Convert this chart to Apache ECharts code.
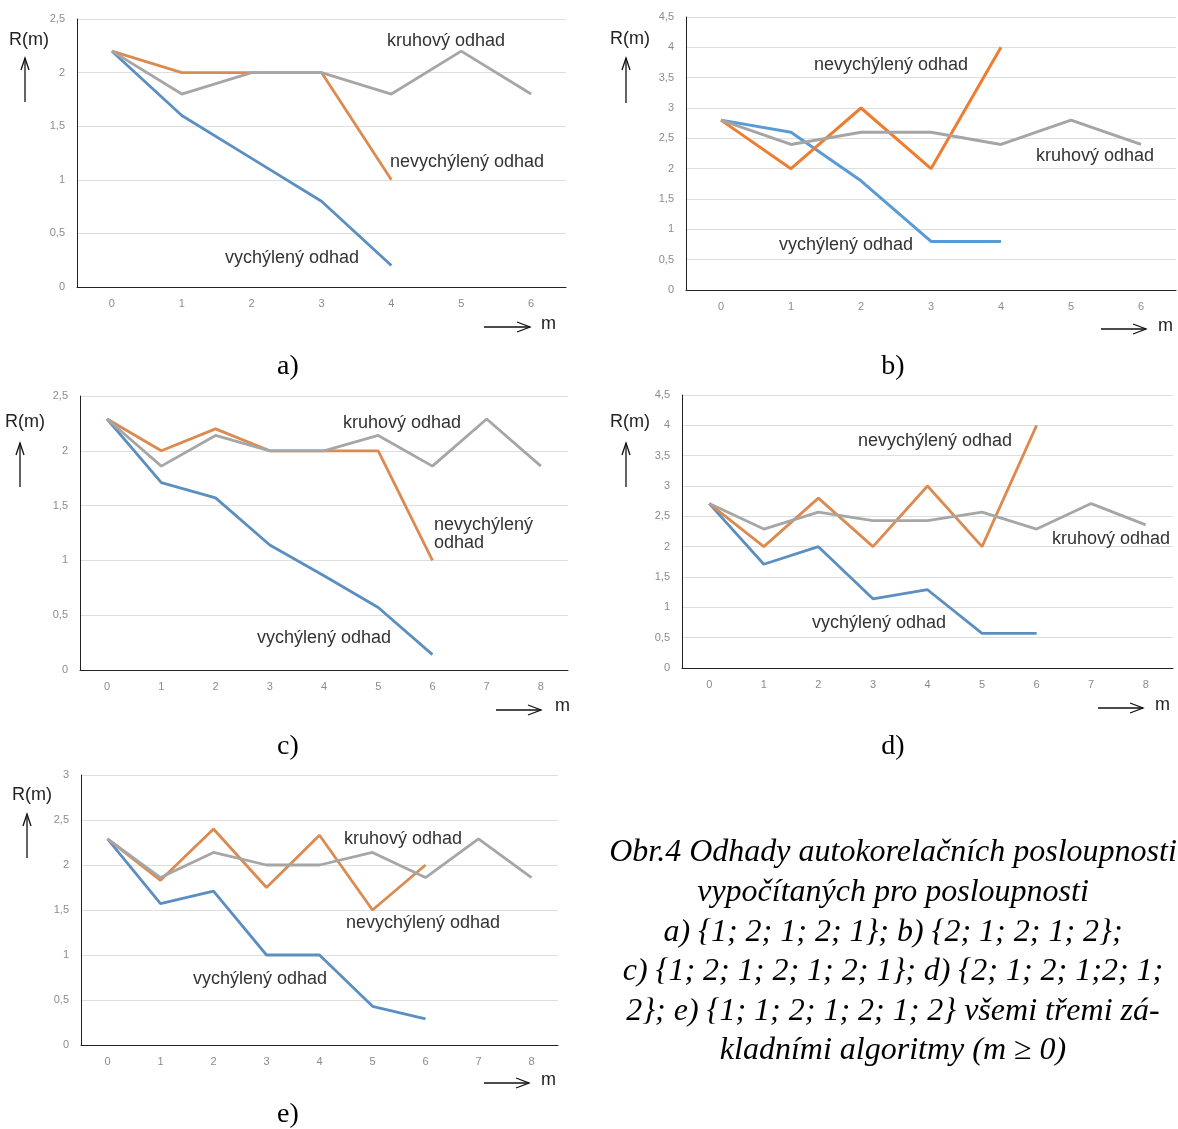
<!DOCTYPE html>
<html>
<head>
<meta charset="utf-8">
<script src="https://cdn.jsdelivr.net/npm/echarts@6/dist/echarts.min.js"></script>
<style>
html, body { margin: 0; padding: 0; background: #fff; }
#chart { width: 1178px; height: 1129px; }
</style>
</head>
<body>
<div id="chart"></div>
<script>
// lags m
var lags7 = ['0', '1', '2', '3', '4', '5', '6'];
var lags9 = ['0', '1', '2', '3', '4', '5', '6', '7', '8'];

// a) {1; 2; 1; 2; 1}
var biasedA = [2.2, 1.6, 1.2, 0.8, 0.2];
var unbiasedA = [2.2, 2.0, 2.0, 2.0, 1.0];
var circularA = [2.2, 1.8, 2.0, 2.0, 1.8, 2.2, 1.8];

// b) {2; 1; 2; 1; 2}
var biasedB = [2.8, 2.6, 1.8, 0.8, 0.8];
var unbiasedB = [2.8, 2.0, 3.0, 2.0, 4.0];
var circularB = [2.8, 2.4, 2.6, 2.6, 2.4, 2.8, 2.4];

// c) {1; 2; 1; 2; 1; 2; 1}
var biasedC = [2.29, 1.71, 1.57, 1.14, 0.86, 0.57, 0.14];
var unbiasedC = [2.29, 2.0, 2.2, 2.0, 2.0, 2.0, 1.0];
var circularC = [2.29, 1.86, 2.14, 2.0, 2.0, 2.14, 1.86, 2.29, 1.86];

// d) {2; 1; 2; 1; 2; 1; 2}
var biasedD = [2.71, 1.71, 2.0, 1.14, 1.29, 0.57, 0.57];
var unbiasedD = [2.71, 2.0, 2.8, 2.0, 3.0, 2.0, 4.0];
var circularD = [2.71, 2.29, 2.57, 2.43, 2.43, 2.57, 2.29, 2.71, 2.36];

// e) {1; 1; 2; 1; 2; 1; 2}
var biasedE = [2.29, 1.57, 1.71, 1.0, 1.0, 0.43, 0.29];
var unbiasedE = [2.29, 1.83, 2.4, 1.75, 2.33, 1.5, 2.0];
var circularE = [2.29, 1.86, 2.14, 2.0, 2.0, 2.14, 1.86, 2.29, 1.86];

var yMaxes = [2.5, 4.5, 2.5, 4.5, 3];
var panelNames = ['a)', 'b)', 'c)', 'd)', 'e)'];

var captionLines = [
    'Obr.4 Odhady autokorelačních posloupnosti',
    'vypočítaných pro posloupnosti',
    'a) {1; 2; 1; 2; 1}; b) {2; 1; 2; 1; 2};',
    'c) {1; 2; 1; 2; 1; 2; 1}; d) {2; 1; 2; 1;2; 1;',
    '2}; e) {1; 1; 2; 1; 2; 1; 2} všemi třemi zá-',
    'kladními algoritmy (m ≥ 0)'
];

// b) and d) are brighter than the scanned a), c), e)
var vivid = ['#5b9bd5', '#ed7d31', '#a5a5a5'];
var muted = ['#5b8fc2', '#dc8a4f', '#a6a6a6'];

var panels = [
    { cats: lags7, series: [biasedA, unbiasedA, circularA], colors: muted,
      grid: { left: 77, top: 19, width: 489, height: 268 },
      rm: [9, 42], up: [25, 58, 102], mArrow: [484, 530, 327], mText: [541, 326], name: [288, 367],
      notes: [['kruhový odhad', 387, 41], ['nevychýlený odhad', 390, 162], ['vychýlený odhad', 225, 258]] },
    { cats: lags7, series: [biasedB, unbiasedB, circularB], colors: vivid,
      grid: { left: 686, top: 17, width: 490, height: 273 },
      rm: [610, 41], up: [626, 58, 103], mArrow: [1101, 1146, 329], mText: [1158, 328], name: [893, 367],
      notes: [['nevychýlený odhad', 814, 65], ['kruhový odhad', 1036, 156], ['vychýlený odhad', 779, 245]] },
    { cats: lags9, series: [biasedC, unbiasedC, circularC], colors: muted,
      grid: { left: 80, top: 396, width: 488, height: 274 },
      rm: [5, 424], up: [20, 443, 487], mArrow: [496, 541, 710], mText: [555, 708], name: [288, 747],
      notes: [['kruhový odhad', 343, 423], ['nevychýlený', 434, 525], ['odhad', 434, 543], ['vychýlený odhad', 257, 638]] },
    { cats: lags9, series: [biasedD, unbiasedD, circularD], colors: muted,
      grid: { left: 682, top: 395, width: 491, height: 273 },
      rm: [610, 424], up: [626, 443, 487], mArrow: [1098, 1143, 708], mText: [1155, 707], name: [893, 747],
      notes: [['nevychýlený odhad', 858, 441], ['kruhový odhad', 1052, 539], ['vychýlený odhad', 812, 623]] },
    { cats: lags9, series: [biasedE, unbiasedE, circularE], colors: muted,
      grid: { left: 81, top: 775, width: 477, height: 270 },
      rm: [12, 797], up: [27, 814, 858], mArrow: [484, 529, 1083], mText: [541, 1082], name: [288, 1115],
      notes: [['kruhový odhad', 344, 839], ['nevychýlený odhad', 346, 923], ['vychýlený odhad', 193, 979]] }
];

function comma(v) {
    return String(v).replace('.', ',');
}

var grids = [], xAxes = [], yAxes = [], series = [], graphics = [];
var textFont = '"Liberation Sans", Arial, sans-serif';

panels.forEach(function(p, i) {
    grids.push(p.grid);
    xAxes.push({
        type: 'category', gridIndex: i, data: p.cats, boundaryGap: true,
        axisLine: { lineStyle: { color: '#222', width: 1 } },
        axisTick: { show: false },
        axisLabel: { color: '#8c8c8c', fontSize: 11, margin: 11, fontFamily: textFont }
    });
    yAxes.push({
        type: 'value', gridIndex: i, min: 0, max: yMaxes[i], interval: 0.5,
        axisLine: { show: true, lineStyle: { color: '#222', width: 1 } },
        axisTick: { show: false },
        axisLabel: { color: '#8c8c8c', fontSize: 11, margin: 12, fontFamily: textFont, formatter: comma },
        splitLine: { lineStyle: { color: '#dedede', width: 1 } }
    });
    p.colors.forEach(function(c, k) {
        series.push({
            type: 'line', xAxisIndex: i, yAxisIndex: i, data: p.series[k],
            showSymbol: false, symbol: 'none', smooth: false, animation: false,
            lineStyle: { color: c, width: i === 1 ? 3 : 2.8 }, z: 2 + k
        });
    });

    graphics.push({ type: 'text', left: p.rm[0], top: p.rm[1] - 11,
        style: { text: 'R(m)', font: '18px ' + textFont, fill: '#222' } });
    graphics.push({ type: 'line', shape: { x1: p.up[0], y1: p.up[2], x2: p.up[0], y2: p.up[1] },
        style: { stroke: '#111', lineWidth: 1.3 } });
    graphics.push({ type: 'polyline', shape: { points: [[p.up[0] - 4, p.up[1] + 12], [p.up[0], p.up[1]], [p.up[0] + 4, p.up[1] + 12]] },
        style: { stroke: '#111', lineWidth: 1.3, fill: null } });
    graphics.push({ type: 'line', shape: { x1: p.mArrow[0], y1: p.mArrow[2], x2: p.mArrow[1], y2: p.mArrow[2] },
        style: { stroke: '#111', lineWidth: 1.3 } });
    graphics.push({ type: 'polyline', shape: { points: [[p.mArrow[1] - 13, p.mArrow[2] - 5], [p.mArrow[1], p.mArrow[2]], [p.mArrow[1] - 13, p.mArrow[2] + 5]] },
        style: { stroke: '#111', lineWidth: 1.3, fill: null } });
    graphics.push({ type: 'text', left: p.mText[0], top: p.mText[1] - 11,
        style: { text: 'm', font: '18px ' + textFont, fill: '#222' } });
    graphics.push({ type: 'text', x: p.name[0], y: p.name[1],
        style: { text: panelNames[i], font: '28px "Liberation Serif", "Times New Roman", serif', fill: '#000',
                 textAlign: 'center', textVerticalAlign: 'middle' } });
    p.notes.forEach(function(n) {
        graphics.push({ type: 'text', x: n[1], y: n[2],
            style: { text: n[0], font: '18px ' + textFont, fill: '#333', textVerticalAlign: 'middle' }, z: 10 });
    });
});

captionLines.forEach(function(t, k) {
    graphics.push({ type: 'text', x: 893, y: 853 + k * 39.6,
        style: { text: t, font: 'italic 32px "Liberation Serif", "Times New Roman", serif', fill: '#000',
                 textAlign: 'center', textVerticalAlign: 'middle' } });
});

var chart = echarts.init(document.getElementById('chart'), null, { renderer: 'canvas' });
chart.setOption({
    backgroundColor: '#fff',
    animation: false,
    grid: grids,
    xAxis: xAxes,
    yAxis: yAxes,
    series: series,
    graphic: graphics
});
</script>
</body>
</html>
